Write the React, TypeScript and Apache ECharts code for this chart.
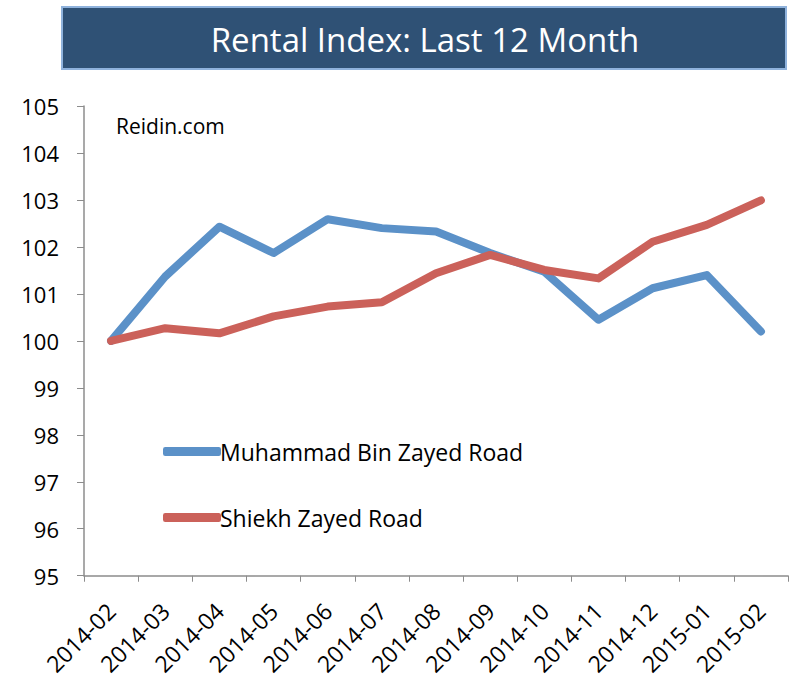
import React, { useEffect, useRef } from "react";
import * as echarts from "echarts";

const categories = ["2014-02","2014-03","2014-04","2014-05","2014-06","2014-07","2014-08","2014-09","2014-10","2014-11","2014-12","2015-01","2015-02"];
const mbzRoad = [100, 101.37, 102.43, 101.87, 102.59, 102.4, 102.33, 101.87, 101.47, 100.45, 101.12, 101.4, 100.2];
const szRoad = [100, 100.27, 100.16, 100.52, 100.73, 100.82, 101.44, 101.83, 101.51, 101.33, 102.11, 102.47, 102.99];
const seriesNames = ["Muhammad Bin Zayed Road", "Shiekh Zayed Road"];
const titleText = "Rental Index: Last 12 Month";
const sourceText = "Reidin.com";

const FONT = "'Open Sans', 'Noto Sans', sans-serif";

export default function App() {
  const ref = useRef<HTMLDivElement>(null);
  useEffect(() => {
    if (!ref.current) return;
    const chart = echarts.init(ref.current, undefined, { renderer: "svg" });
    chart.setOption({
      animation: false,
      backgroundColor: "#ffffff",
      grid: { left: 84, right: 2, top: 106, bottom: 102, containLabel: false },
      graphic: [
        {
          type: "rect",
          shape: { x: 62, y: 7, width: 724, height: 62 },
          style: { fill: "#2F5175", stroke: "#8FB2DC", lineWidth: 2 },
        },
        {
          type: "text",
          x: 425,
          y: 39,
          style: {
            text: titleText,
            fill: "#ffffff",
            font: `33px ${FONT}`,
            align: "center",
            verticalAlign: "middle",
          },
        },
        {
          type: "text",
          x: 116,
          y: 126,
          style: {
            text: sourceText,
            fill: "#000000",
            font: `21px ${FONT}`,
            align: "left",
            verticalAlign: "middle",
          },
        },
      ],
      legend: {
        orient: "vertical",
        left: 158,
        top: 435,
        itemWidth: 58,
        itemHeight: 9,
        itemGap: 43,
        icon: "roundRect",
        textStyle: { fontFamily: FONT, fontSize: 23, color: "#000", padding: [0, 0, 0, -6] },
        data: seriesNames,
      },
      xAxis: {
        type: "category",
        data: categories,
        boundaryGap: true,
        axisLine: { lineStyle: { color: "#8c8c8c", width: 1.5 } },
        axisTick: { show: true, length: 6, lineStyle: { color: "#8c8c8c" } },
        axisLabel: {
          rotate: 45,
          fontFamily: FONT,
          fontSize: 23,
          color: "#000",
          margin: 31,
          interval: 0,
        },
        splitLine: { show: false },
      },
      yAxis: {
        type: "value",
        min: 95,
        max: 105,
        interval: 1,
        axisLine: { show: true, lineStyle: { color: "#8c8c8c", width: 1.5 } },
        axisTick: { show: true, length: 7, lineStyle: { color: "#8c8c8c" } },
        axisLabel: { fontFamily: FONT, fontSize: 22, color: "#000", margin: 25 },
        splitLine: { show: false },
      },
      series: [
        {
          name: seriesNames[0],
          type: "line",
          data: mbzRoad,
          showSymbol: false,
          symbol: "none",
          color: "#5B91C8",
          lineStyle: { width: 8, color: "#5B91C8", cap: "round", join: "round" },
        },
        {
          name: seriesNames[1],
          type: "line",
          data: szRoad,
          showSymbol: false,
          symbol: "none",
          color: "#CB615A",
          lineStyle: { width: 8, color: "#CB615A", cap: "round", join: "round" },
        },
      ],
    });
    return () => chart.dispose();
  }, []);
  return (
    <div
      ref={ref}
      style={{ position: "fixed", left: 0, top: 0, width: 790, height: 678 }}
    />
  );
}
